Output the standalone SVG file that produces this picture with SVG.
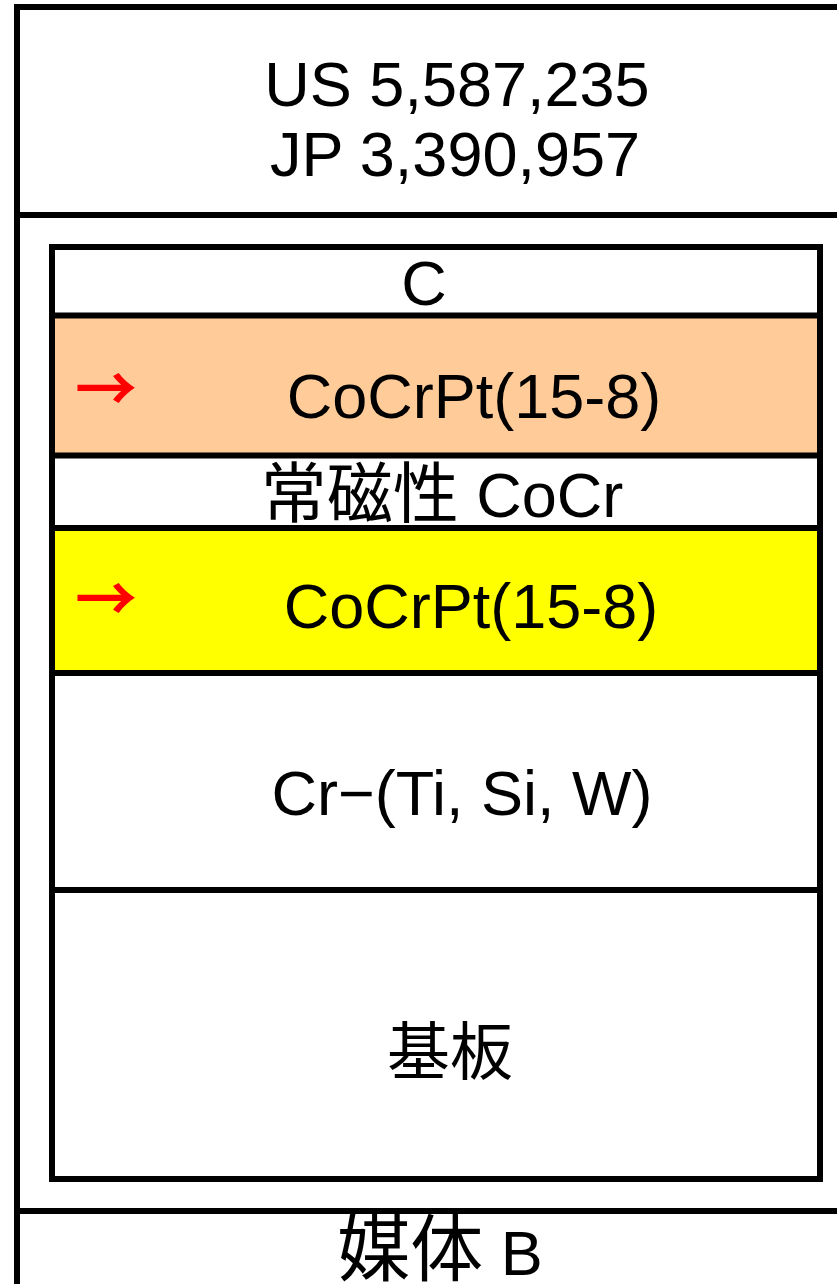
<svg xmlns="http://www.w3.org/2000/svg" width="837" height="1284" viewBox="0 0 837 1284">
<style>
.ln{stroke:#000;stroke-width:6;fill:none}
.t{font-family:"Liberation Sans","Noto Sans CJK JP",sans-serif;font-size:63px;fill:#000;text-anchor:middle}
.ar{font-family:"Noto Sans CJK JP",sans-serif;font-size:62px;font-weight:bold;fill:#f00}
</style>
<rect width="837" height="1284" fill="#fff"/>
<g id="frame">
<path class="ln" d="M17,7 H837 M17,4 V1284 M17,215 H837 M17,1211 H837"/>
</g>
<g id="header">
<text class="t" x="457" y="106">US 5,587,235</text>
<text class="t" x="455" y="176">JP 3,390,957</text>
</g>
<g id="stack">
<rect x="52" y="315" width="768" height="141" fill="#FFCC99"/>
<rect x="52" y="528" width="768" height="145" fill="#FFFF00"/>
<rect class="ln" x="52" y="247" width="768" height="932"/>
<path class="ln" d="M52,315.5 H820 M52,455.5 H820 M52,528 H820 M52,673 H820 M52,890 H820"/>
</g>
<g id="layer-c"><text class="t" x="424" y="305">C</text></g>
<g id="layer-cocrpt-top">
<text class="ar" x="75" y="412">→</text>
<text class="t" x="474" y="418">CoCrPt(15-8)</text>
</g>
<g id="layer-cocr"><text class="t" x="442" y="517"><tspan font-size="66">常磁性</tspan> CoCr</text></g>
<g id="layer-cocrpt-bottom">
<text class="ar" x="75" y="622">→</text>
<text class="t" x="471" y="628">CoCrPt(15-8)</text>
</g>
<g id="layer-cr"><text class="t" x="462" y="815" font-size="65">Cr−(Ti, Si, W)</text></g>
<g id="substrate"><text class="t" x="450" y="1074" font-size="79">基板</text></g>
<g id="footer"><text class="t" x="440" y="1275"><tspan font-size="73">媒体</tspan> B</text></g>
</svg>
